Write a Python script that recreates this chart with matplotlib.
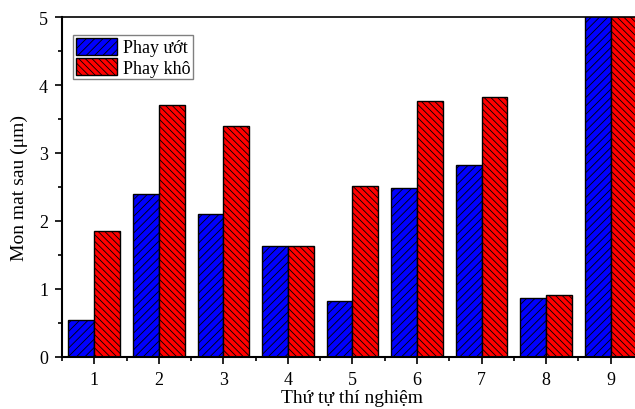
import matplotlib.pyplot as plt
import numpy as np

plt.rcParams['font.family'] = ['Liberation Serif', 'DejaVu Serif']
plt.rcParams['hatch.linewidth'] = 0.6

# data
experiments = [1, 2, 3, 4, 5, 6, 7, 8, 9]
phay_uot = [0.54, 2.40, 2.10, 1.63, 0.82, 2.49, 2.83, 0.87, 5.3]
phay_kho = [1.85, 3.70, 3.40, 1.63, 2.51, 3.76, 3.83, 0.91, 5.3]

fig = plt.figure(figsize=(6.35, 4.1), dpi=100)
ax = fig.add_axes([0.0976, 0.127, 0.915, 0.829])

x = np.array(experiments)
w = 0.4
ax.bar(x - w / 2, phay_uot, w, color='#0000ff', edgecolor='black',
       linewidth=1, hatch='////', label='Phay ướt')
ax.bar(x + w / 2, phay_kho, w, color='#ff0000', edgecolor='black',
       linewidth=1, hatch='\\\\\\\\\\', label='Phay khô')

ax.set_xlim(0.5, 9.5)
ax.set_ylim(0, 5)
ax.set_xticks(experiments)
ax.set_xticks(np.arange(0.5, 10, 1), minor=True)
ax.set_yticks(range(6))
ax.set_yticks(np.arange(0.5, 5, 1), minor=True)
ax.tick_params(which='major', direction='out', length=5, width=1.2,
               labelsize=13, pad=5)
ax.tick_params(which='minor', direction='out', length=3, width=1.2)

ax.spines['left'].set_linewidth(1.5)
ax.spines['bottom'].set_linewidth(1.5)
ax.spines['top'].set_linewidth(1.2)
ax.spines['right'].set_visible(False)

ax.set_xlabel('Thứ tự thí nghiệm', fontsize=14, labelpad=1)
ax.set_ylabel('Mon mat sau (μm)', fontsize=14, labelpad=8)

leg = ax.legend(loc='upper left', bbox_to_anchor=(0.019, 0.947), fontsize=13,
                fancybox=False, edgecolor='gray', framealpha=1,
                handlelength=2.3, handleheight=1.05, borderpad=0.15,
                labelspacing=0.1, handletextpad=0.3, borderaxespad=0)
leg.get_frame().set_linewidth(1)

fig.savefig('out.png', dpi=100)
